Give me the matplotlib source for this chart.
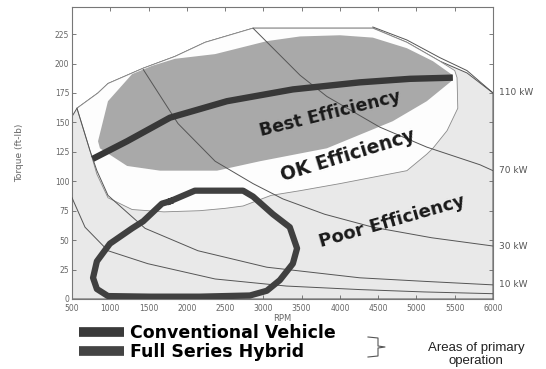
import matplotlib
matplotlib.use("Agg")
import matplotlib.pyplot as plt
from matplotlib.lines import Line2D

# Engine operating envelope (max torque), rpm vs torque
envelope_rpm = [500, 565, 840, 970, 1430, 1845, 2240, 2865, 4430, 4875, 5305, 5660, 6000]
envelope_torque = [155, 162, 175, 183, 196, 206, 218, 230, 230, 218, 202, 192, 175]

# "OK efficiency" island (white)
ok_rpm = [565, 840, 970, 1430, 1845, 2240, 2865, 4430, 4875, 5305, 5500, 5530, 5540,
          5400, 5215, 5135, 4875, 4000, 3480, 3100, 2735, 2500, 2170, 1700, 1285, 970, 825, 735]
ok_torque = [162, 175, 183, 196, 206, 218, 230, 230, 218, 202, 194, 188, 162,
             143, 128, 123, 109, 98, 92, 88, 79, 77, 75, 74, 76, 86, 106, 126]

# "Best efficiency" island (dark grey)
best_rpm = [840, 970, 1285, 1545, 1845, 2370, 3045, 3480, 4000, 4430, 4875, 5215, 5475,
            5475, 5135, 4690, 3830, 2955, 2395, 1650, 1220, 865]
best_torque = [134, 168, 191, 198, 204, 208, 219, 223, 224, 222, 213, 202, 190,
               186, 168, 151, 128, 117, 109, 109, 113, 128]

# Constant power lines
p110_rpm = [4430, 4875, 5305, 5660, 6000]
p110_torque = [231, 220, 205, 194, 175]
p70_rpm = [2865, 3480, 3830, 4520, 5135, 5830, 6000]
p70_torque = [230, 190, 172, 146, 129, 114, 109]
p30_rpm = [1430, 1885, 2370, 2865, 3255, 3800, 4430, 5200, 6000]
p30_torque = [195, 149, 117, 98, 85, 72, 61, 52, 45]
p10_rpm = [565, 735, 825, 970, 1455, 2145, 3045, 4260, 5100, 6000]
p10_torque = [162, 126, 109, 88, 60, 41, 27, 18, 15, 12]
p4_rpm = [500, 670, 970, 1490, 2370, 3300, 4260, 5100, 6000]
p4_torque = [86, 61, 41, 30, 17, 11, 8, 6, 4.5]
power_labels = ["110 kW", "70 kW", "30 kW", "10 kW"]

# Primary operating areas
conv_rpm = [770, 1220, 1780, 2525, 3385, 4260, 4915, 5475]
conv_torque = [119, 134, 154, 168, 178, 184, 187, 188]
hyb_rpm = [1780, 2105, 2735, 2865, 3125, 3345, 3440, 3385, 3215, 3045, 2825, 2170,
           1520, 970, 825, 775, 825, 995, 1285, 1430, 1675, 1780]
hyb_torque = [83, 92, 92, 87, 72, 61, 43, 30, 16, 7, 3, 2,
              2, 2.5, 8.5, 18, 32, 47, 60, 66, 81, 83]

fig = plt.figure(figsize=(5.46, 3.69), dpi=100)
fig.patch.set_facecolor("white")
ax = fig.add_axes([72 / 546, 70 / 369, 421 / 546, 292 / 369])

edge = "#555555"

# filled efficiency zones
ax.fill(envelope_rpm + [6000, 500], envelope_torque + [0, 0],
        facecolor="#e9e9e9", edgecolor=edge, linewidth=0.7, zorder=1)
ax.fill(ok_rpm, ok_torque, facecolor="#fdfdfd", edgecolor="#8a8a8a", linewidth=0.6, zorder=2)
ax.fill(best_rpm, best_torque, facecolor="#a9a9a9", edgecolor="none", zorder=3)

# constant power curves
power_lines = [(p110_rpm, p110_torque), (p70_rpm, p70_torque),
               (p30_rpm, p30_torque), (p10_rpm, p10_torque), (p4_rpm, p4_torque)]
for r, t in power_lines:
    ax.plot(r, t, color=edge, linewidth=0.7, zorder=4)

for (r, t), lab in zip(power_lines[:4], power_labels):
    ax.annotate(lab, xy=(r[-1], t[-1]), xytext=(4, 0), textcoords="offset points",
                ha="left", va="center", fontsize=6.5, color="#555555",
                annotation_clip=False)

# operating areas
ax.plot(conv_rpm, conv_torque, color="#383838", linewidth=4.6,
        solid_capstyle="butt", zorder=6)
ax.plot(hyb_rpm, hyb_torque, color="#404040", linewidth=4.5,
        solid_joinstyle="round", zorder=6)

# zone labels
ax.text(3870, 157, "Best Efficiency", rotation=14, ha="center", va="center",
        fontsize=12.5, fontweight="bold", color="#1a1a1a", zorder=7)
ax.text(4105, 122, "OK Efficiency", rotation=17, ha="center", va="center",
        fontsize=13.5, fontweight="bold", color="#1a1a1a", zorder=7)
ax.text(4680, 66, "Poor Efficiency", rotation=16, ha="center", va="center",
        fontsize=13, fontweight="bold", color="#1a1a1a", zorder=7)

ax.set_xlim(500, 6000)
ax.set_ylim(0, 248)
ax.set_xticks(range(500, 6001, 500))
ax.set_yticks(range(0, 226, 25))
ax.tick_params(direction="in", top=True, right=True, length=3, width=0.6,
               labelsize=5.5, labelcolor="#666666", color="#666666", pad=2)
ax.tick_params(axis="x", pad=3.5)
for spine in ax.spines.values():
    spine.set_color("#777777")
    spine.set_linewidth(0.8)

ax.set_xlabel("RPM", fontsize=6, color="#666666", labelpad=1)
ax.set_ylabel("Torque (ft-lb)", fontsize=6.5, color="#666666", labelpad=22)

# legend under the chart
handles = [Line2D([], [], color="#3a3a3a", linewidth=7, solid_capstyle="butt"),
           Line2D([], [], color="#444444", linewidth=7, solid_capstyle="butt")]
fig.legend(handles, ["Conventional Vehicle", "Full Series Hybrid"],
           loc="center left", bbox_to_anchor=(0.128, 0.072), frameon=False,
           prop={"weight": "bold", "size": 12.5}, handlelength=2.6,
           handletextpad=0.35, labelspacing=0.05, borderpad=0)

# bracket pointing to the note
bx = [368 / 546, 378 / 546, 378 / 546, 385 / 546, 378 / 546, 378 / 546, 368 / 546]
by = [1 - 337 / 369, 1 - 338 / 369, 1 - 346 / 369, 1 - 347 / 369,
      1 - 348 / 369, 1 - 356 / 369, 1 - 357 / 369]
fig.add_artist(Line2D(bx, by, color="#555555", linewidth=0.8, transform=fig.transFigure))

fig.text(476 / 546, 1 - 342 / 369, "Areas of primary\noperation", ha="center", va="top",
         fontsize=9.5, family=["Liberation Sans", "DejaVu Sans"], color="#222222",
         linespacing=1.1)

plt.savefig("out.png", dpi=100, facecolor="white")
